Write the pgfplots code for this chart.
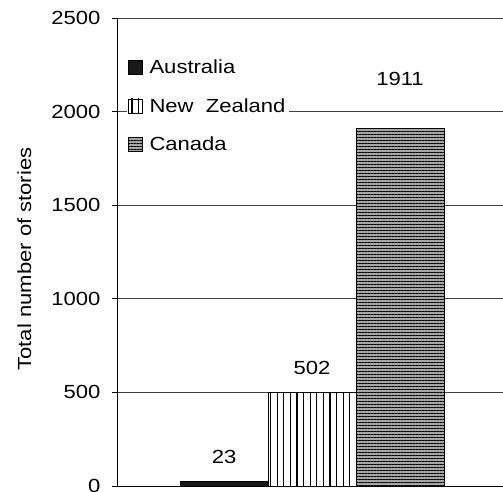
\documentclass[border=0pt]{standalone}
\usepackage{fontspec}
\setmainfont{Liberation Sans}[FakeStretch=1.16]
\usepackage{pgfplots}
\pgfplotsset{compat=1.18}
\usetikzlibrary{patterns.meta}
\newcommand{\cf}{\fontsize{19}{22}\selectfont}
\begin{document}
\begin{tikzpicture}
\begin{axis}[
  scale only axis,
  width=386pt, height=468pt,
  xmin=-1.216, xmax=3.17,
  ymin=0, ymax=2500,
  ytick={0,500,1000,1500,2000,2500},
  yticklabels={0,500,1000,1500,2000,2500},
  axis y line=left, axis x line=bottom,
  axis line style={-, black, line width=0.8pt},
  xtick=\empty,
  ymajorgrids,
  grid style={black!75, line width=0.6pt},
  tick style={black, line width=0.6pt},
  ytick align=outside,
  major tick length=5pt,
  tick label style={font=\cf},
  yticklabel style={xshift=-8pt},
  ylabel={Total number of stories},
  ylabel style={font=\cf, at={(axis description cs:-0.24,0.485)}, anchor=center},
  ybar, bar width=1, bar shift=0pt,
  point meta=explicit symbolic,
  legend style={at={(0.025,0.917)}, anchor=north west, draw=none, fill=white,
    font=\cf, row sep=19pt, inner sep=1pt},
  legend cell align=left,
  legend image code/.code={\draw[#1, line width=0.7pt] (0pt,-7pt) rectangle (14pt,7pt);},
  clip=false,
]
\coordinate (bl) at (rel axis cs:0,0);
\coordinate (tr) at (rel axis cs:1,1);
\addplot[draw=black, line width=0.8pt, fill=black!90,
  nodes near coords={\pgfplotspointmeta}, nodes near coords style={font=\cf, yshift=14pt, black}] coordinates {(0,23) [23]};
\addlegendentry{\hspace{5pt}Australia}
\addplot[draw=black, line width=0.8pt, fill=white,
  pattern={Lines[angle=90, distance=6.6pt, line width=1.2pt]},
  nodes near coords={\pgfplotspointmeta}, nodes near coords style={font=\cf, yshift=14pt, black}] coordinates {(1,502) [502]};
\addlegendentry{\hspace{5pt}New\ \ Zealand}
\addplot[draw=black, line width=0.8pt, preaction={fill=black!35},
  pattern={Lines[angle=0, distance=3pt, line width=1pt]},
  nodes near coords={\pgfplotspointmeta}, nodes near coords style={font=\cf, yshift=40pt, black, fill=white, inner sep=2pt}] coordinates {(2,1911) [1911]};
\addlegendentry{\hspace{5pt}Canada}
\end{axis}
\pgfresetboundingbox
\path[use as bounding box] ([shift={(-117pt,-6pt)}]bl) rectangle ([shift={(0pt,18pt)}]tr);
\end{tikzpicture}
\end{document}
